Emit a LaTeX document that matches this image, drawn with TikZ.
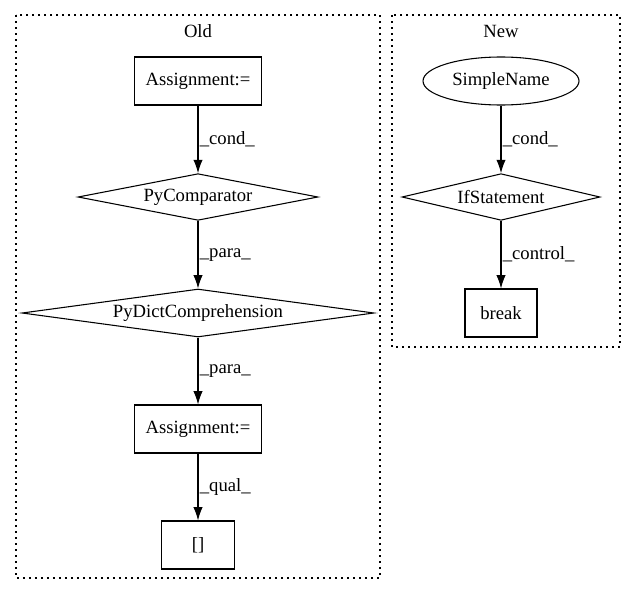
\documentclass[tikz,border=0pt]{standalone}
\usepackage{fontspec}
\setmainfont{Liberation Serif}
\usepackage{tikz}
\usetikzlibrary{arrows.meta}
\usetikzlibrary{shapes.geometric}
\tikzset{>={Latex[length=10pt,width=7pt]}}
\tikzset{box/.style = {rectangle, draw=black, line width=0.8pt, minimum width=95pt, minimum height=36pt, inner sep=0}}
\tikzset{decision/.style = {diamond, draw=black, line width=0.8pt, inner sep=0}}
\tikzset{oval/.style = {ellipse, draw=black, line width=0.8pt, inner sep=0}}
\tikzset{cluster/.style = {draw=black, line width=0.8pt, dash pattern=on 1.2pt off 3.3pt}}
\tikzset{lbl/.style = {draw=none, right, inner sep=1pt}}

\begin{document}
\begin{tikzpicture}[x=0.75pt, y=-0.75pt, font=\fontsize{14}{16}\selectfont]
\useasboundingbox (0,0) rectangle (627,596);
% clusters
\draw [cluster] (16, 15) rectangle (380, 578);
\draw [cluster] (392, 15) rectangle (620, 347);
\node [draw=none] (old) at (198, 31) {Old};
\node [draw=none] (new) at (501, 31) {New};
% old
\node [box] (A1) at (198, 81) {Assignment:=};
\node [decision, aspect=5.14, minimum width=180pt, minimum height=35pt] (PC) at (198, 197) {PyComparator};
\node [decision, aspect=7.33, minimum width=264pt, minimum height=36pt] (PD) at (198, 313) {PyDictComprehension};
\node [box] (A2) at (198, 429) {Assignment:=};
\node [box, minimum width=55pt] (IDX) at (198, 545) {[]};
\draw [->, line width=0.8pt] (A1) to node [lbl] {\_cond\_} (PC);
\draw [->, line width=0.8pt] (PC) to node [lbl] {\_para\_} (PD);
\draw [->, line width=0.8pt] (PD) to node [lbl] {\_para\_} (A2);
\draw [->, line width=0.8pt] (A2) to node [lbl] {\_qual\_} (IDX);
% new
\node [oval, minimum width=117pt, minimum height=36pt] (SN) at (501, 81) {SimpleName};
\node [decision, aspect=4.24, minimum width=148.5pt, minimum height=35pt] (IF) at (501, 197) {IfStatement};
\node [box, minimum width=54pt] (BRK) at (501, 313) {break};
\draw [->, line width=0.8pt] (SN) to node [lbl] {\_cond\_} (IF);
\draw [->, line width=0.8pt] (IF) to node [lbl] {\_control\_} (BRK);
\end{tikzpicture}
\end{document}
